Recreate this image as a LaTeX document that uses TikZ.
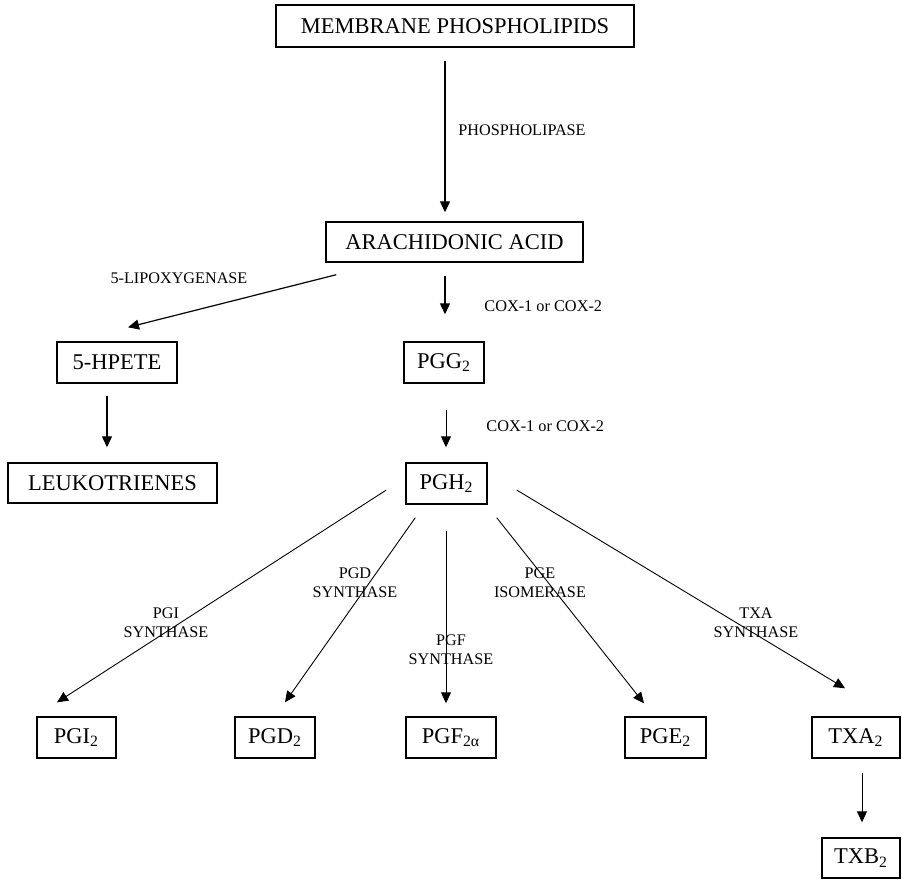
\documentclass[tikz,border=0pt]{standalone}
\usepackage{fontspec}
\setmainfont{Liberation Serif}
\usetikzlibrary{arrows.meta,calc}
\begin{document}
\begin{tikzpicture}[x=0.5pt,y=-0.5pt,
  box/.style={draw,line width=0.7pt,inner sep=0pt,minimum height=20.5pt,font=\fontsize{11.25}{13}\selectfont},
  lab/.style={inner sep=0pt,font=\fontsize{8.1}{9.5}\selectfont,align=center},
  coxlab/.style={inner sep=0pt,anchor=west,font=\fontsize{8.15}{9.5}\selectfont},
  arr/.style={line width=0.6pt,-{Triangle[length=5.5pt,width=5pt]}},
  fan/.style={line width=0.45pt,-{Triangle[length=5.5pt,width=5pt]}}]
\useasboundingbox (0,0) rectangle (902,880);
% nodes
\node[box,minimum width=179pt,minimum height=21pt] (mp) at (455,26) {MEMBRANE PHOSPHOLIPIDS};
\node[box,minimum width=128.5pt,minimum height=20pt] (aa) at (454.5,242) {ARACHIDONIC ACID};
\node[box,minimum width=60pt] (hpete) at (117,362.5) {5-HPETE};
\node[box,minimum width=40pt] (pgg) at (444,362.5) {PGG\textsubscript{2}};
\node[box,minimum width=104.5pt,minimum height=20pt] (leuk) at (112.5,483) {LEUKOTRIENES};
\node[box,minimum width=40.5pt] (pgh) at (446.5,483.5) {PGH\textsubscript{2}};
\node[box,minimum width=39.5pt] (pgi) at (76.5,737.5) {PGI\textsubscript{2}};
\node[box,minimum width=40pt] (pgd) at (275,737.5) {PGD\textsubscript{2}};
\node[box,minimum width=45pt] (pgf) at (451,737.5) {PGF\textsubscript{2α}};
\node[box,minimum width=40.5pt] (pge) at (665.5,737.5) {PGE\textsubscript{2}};
\node[box,minimum width=44pt] (txa) at (856,737.5) {TXA\textsubscript{2}};
\node[box,minimum width=39pt,minimum height=20pt] (txb) at (861,858) {TXB\textsubscript{2}};
% labels
\node[lab,anchor=west] (lphos) at (458,130) {PHOSPHOLIPASE};
\node[coxlab] (lcox1) at (484,306) {COX-1 or COX-2};
\node[coxlab] (lcox2) at (486,426) {COX-1 or COX-2};
\node[lab] (llip) at (179,278) {5-LIPOXYGENASE};
\node[lab] (lpgi) at (166,622.5) {PGI\\SYNTHASE};
\node[lab] (lpgd) at (355,582.5) {PGD\\SYNTHASE};
\node[lab] (lpgf) at (451,649.5) {PGF\\SYNTHASE};
\node[lab] (lpge) at (540,582.5) {PGE\\ISOMERASE};
\node[lab] (ltxa) at (756,622.5) {TXA\\SYNTHASE};
% connectors
\draw[arr] ($(mp.south)+(-10,13)$) -- ($(aa.north)+(-9.5,-9)$);
\draw[arr] ($(aa.south)+(-9.5,13)$) -- ($(pgg.north)+(1,-27)$);
\draw[arr] ($(aa.south west)+(11,12)$) -- ($(hpete.north)+(11,-14)$);
\draw[arr] ($(hpete.south)+(-10,12)$) -- ($(leuk.north)+(-5.5,-15)$);
\draw[fan] ($(pgg.south)+(2,26)$) -- ($(pgh.north)+(-0.5,-15)$);
\draw[fan] ($(pgh.west)+(-19,6.5)$) -- ($(pgi.north)+(-19.5,-14)$);
\draw[fan] ($(pgh.south west)+(10,13)$) -- ($(pgd.north)+(10,-14)$);
\draw[fan] ($(pgh.south)+(-0.5,26)$) -- ($(pgf.north)+(-5,-13)$);
\draw[fan] ($(pgh.south east)+(9,13)$) -- ($(pge.north)+(-21.5,-13)$);
\draw[fan] ($(pgh.east)+(29,6.5)$) -- ($(txa.north)+(-11,-28)$);
\draw[fan] ($(txa.south)+(6,14)$) -- ($(txb.north)+(1,-15)$);
\end{tikzpicture}
\end{document}
